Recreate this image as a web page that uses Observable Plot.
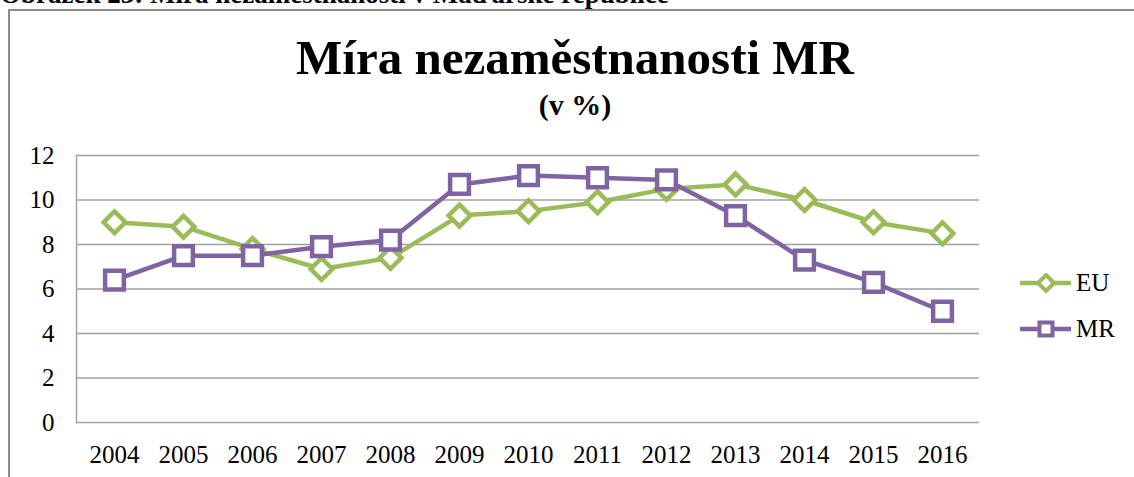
<!DOCTYPE html>
<html>
<head>
<meta charset="utf-8">
<script src="https://cdn.jsdelivr.net/npm/d3@7"></script>
<script src="https://cdn.jsdelivr.net/npm/@observablehq/plot@0.6"></script>
<style>
  html, body { margin: 0; padding: 0; background: #fff; }
  #wrap { position: relative; width: 1134px; height: 477px; overflow: hidden; font-family: "Liberation Serif", "Times New Roman", serif; color: #000; }
  #caption { position: absolute; left: 0; top: -19px; font-size: 27px; line-height: 27px; font-weight: bold; white-space: nowrap; }
  #frame { position: absolute; left: 8px; top: 9px; width: 1140px; height: 480px; border-left: 2px solid #8c8c8c; border-top: 2px solid #8c8c8c; box-sizing: border-box; }
  #title { position: absolute; left: 0; width: 1150px; text-align: center; top: 28px; font-size: 49px; line-height: 60px; font-weight: bold; }
  #subtitle { position: absolute; left: 0; width: 1150px; text-align: center; top: 87px; font-size: 30px; line-height: 36px; font-weight: bold; }
  #chart { position: absolute; left: 0; top: 0; }
  #legend { position: absolute; left: 1018px; top: 260px; font-size: 25px; }
  .item { display: flex; align-items: center; height: 46px; }
  .item svg { margin-right: 3px; }
</style>
</head>
<body>
<div id="wrap">
  <div id="caption">Obrázek 23: Míra nezaměstnanosti v Maďarské republice</div>
  <div id="frame"></div>
  <div id="title">Míra nezaměstnanosti MR</div>
  <div id="subtitle">(v %)</div>
  <div id="chart"></div>
  <div id="legend"></div>
</div>
<script>
const years = ["2004","2005","2006","2007","2008","2009","2010","2011","2012","2013","2014","2015","2016"];
const euValues = [9.0, 8.8, 7.8, 6.9, 7.4, 9.3, 9.5, 9.9, 10.5, 10.7, 10.0, 9.0, 8.5];
const mrValues = [6.4, 7.5, 7.5, 7.9, 8.2, 10.7, 11.1, 11.0, 10.9, 9.3, 7.3, 6.3, 5.0];
const yTicks = [0, 2, 4, 6, 8, 10, 12];
const seriesNames = ["EU", "MR"];
const seriesColors = ["#9BBB59", "#8064A2"];
const seriesSymbols = ["diamond2", "square"];

const eu = years.map((y, i) => ({year: y, value: euValues[i], series: "EU"}));
const mr = years.map((y, i) => ({year: y, value: mrValues[i], series: "MR"}));

const chart = Plot.plot({
  width: 1134,
  height: 477,
  marginLeft: 76,
  marginRight: 155,
  marginTop: 155,
  marginBottom: 55,
  style: {fontFamily: "'Liberation Serif', 'Times New Roman', serif", fontSize: "25px", color: "#000", background: "transparent"},
  x: {type: "point", domain: years, padding: 0.5, label: null},
  y: {domain: [0, 12], label: null},
  marks: [
    Plot.gridY(yTicks, {stroke: "#a0a0a0", strokeOpacity: 1, strokeWidth: 1.4}),
    Plot.frame({anchor: "left", stroke: "#a0a0a0", strokeWidth: 1.4}),
    Plot.axisY({ticks: yTicks, tickSize: 0, tickPadding: 22, label: null}),
    Plot.axisX({tickSize: 0, tickPadding: 23, label: null}),
    Plot.line(eu, {x: "year", y: "value", stroke: seriesColors[0], strokeWidth: 4.5}),
    Plot.dot(eu, {x: "year", y: "value", symbol: seriesSymbols[0], r: 9.8, stroke: seriesColors[0], strokeWidth: 4.5, fill: "#fff"}),
    Plot.line(mr, {x: "year", y: "value", stroke: seriesColors[1], strokeWidth: 4.5}),
    Plot.dot(mr, {x: "year", y: "value", symbol: seriesSymbols[1], r: 10.6, stroke: seriesColors[1], strokeWidth: 4.5, fill: "#fff"})
  ]
});
document.getElementById("chart").appendChild(chart);

// Legend
const legend = d3.select("#legend");
seriesNames.forEach((name, i) => {
  const item = legend.append("div").attr("class", "item");
  const svg = item.append("svg").attr("width", 55).attr("height", 20);
  svg.append("line").attr("x1", 2).attr("x2", 53).attr("y1", 10).attr("y2", 10)
    .attr("stroke", seriesColors[i]).attr("stroke-width", 4.5);
  if (seriesSymbols[i] === "square") {
    svg.append("rect").attr("x", 21.5).attr("y", 3.5).attr("width", 13).attr("height", 13)
      .attr("fill", "#fff").attr("stroke", seriesColors[i]).attr("stroke-width", 4);
  } else {
    svg.append("path").attr("d", "M28,2 L36,10 L28,18 L20,10 Z")
      .attr("fill", "#fff").attr("stroke", seriesColors[i]).attr("stroke-width", 4);
  }
  item.append("span").text(name);
});
</script>
</body>
</html>
